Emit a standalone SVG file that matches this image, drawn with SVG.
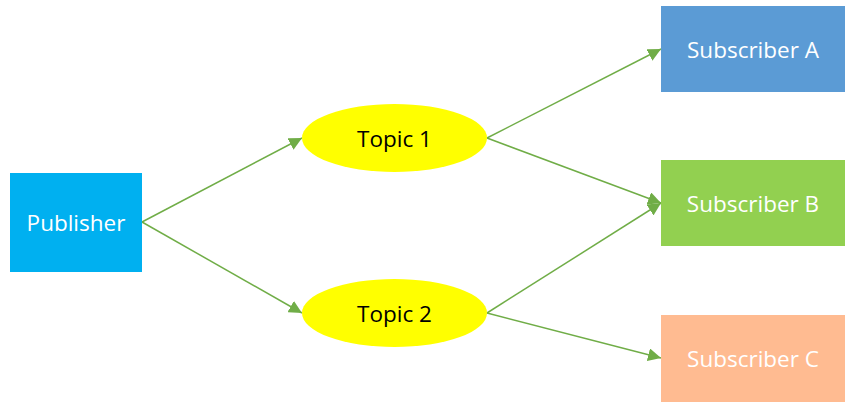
<svg xmlns="http://www.w3.org/2000/svg" width="856" height="415" viewBox="0 0 856 415">
<style>
.lbl{font-family:"Open Sans","Noto Sans","DejaVu Sans",sans-serif;font-size:22.5px;text-anchor:middle;dominant-baseline:central}
.w{fill:#ffffff}
.k{fill:#000000}
.edge{stroke:#70AD47;stroke-width:1.5;fill:none;marker-end:url(#arr)}
</style>
<defs>
<marker id="arr" viewBox="0 0 10 10" refX="10" refY="5" markerWidth="13" markerHeight="13" markerUnits="userSpaceOnUse" orient="auto">
<path d="M0,0 L10,5 L0,10 z" fill="#70AD47"/>
</marker>
</defs>
<g id="connectors">
<line class="edge" x1="142" y1="222" x2="302" y2="138"/>
<line class="edge" x1="142" y1="222" x2="302" y2="313"/>
<line class="edge" x1="487" y1="138" x2="661" y2="49"/>
<line class="edge" x1="487" y1="138" x2="661" y2="203"/>
<line class="edge" x1="487" y1="313" x2="661" y2="203"/>
<line class="edge" x1="487" y1="313" x2="661" y2="358"/>
</g>
<g id="publisher">
<rect x="10" y="173" width="132" height="99" fill="#00B0F0"/>
<text class="lbl w" x="76" y="222">Publisher</text>
</g>
<g id="topic1">
<ellipse cx="394.5" cy="138" rx="92.5" ry="34" fill="#FFFF00"/>
<text class="lbl k" x="394.5" y="138">Topic 1</text>
</g>
<g id="topic2">
<ellipse cx="394.5" cy="313" rx="92.5" ry="34" fill="#FFFF00"/>
<text class="lbl k" x="394.5" y="313">Topic 2</text>
</g>
<g id="subA">
<rect x="661" y="6" width="184" height="86" fill="#5B9BD5"/>
<text class="lbl w" x="753" y="49">Subscriber A</text>
</g>
<g id="subB">
<rect x="661" y="160" width="184" height="86" fill="#92D050"/>
<text class="lbl w" x="753" y="203">Subscriber B</text>
</g>
<g id="subC">
<rect x="661" y="315" width="184" height="87" fill="#FFBB91"/>
<text class="lbl w" x="753" y="358">Subscriber C</text>
</g>
</svg>
